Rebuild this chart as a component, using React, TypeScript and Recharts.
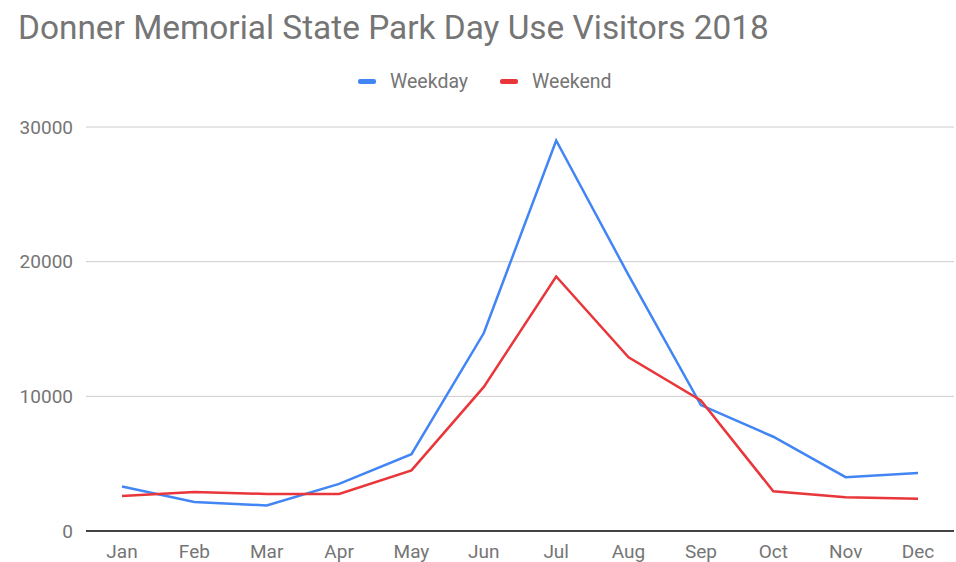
import React from 'react';
import { LineChart, Line, XAxis, YAxis, CartesianGrid } from 'recharts';

const months = ['Jan', 'Feb', 'Mar', 'Apr', 'May', 'Jun', 'Jul', 'Aug', 'Sep', 'Oct', 'Nov', 'Dec'];
const weekday = [3300, 2150, 1900, 3500, 5700, 14700, 29000, 19000, 9350, 7000, 4000, 4300];
const weekend = [2600, 2900, 2750, 2750, 4500, 10700, 18900, 12900, 9700, 2950, 2500, 2400];
const yTicks = [0, 10000, 20000, 30000];

const BLUE = '#4285f4';
const RED = '#e8363a';
const GRAY = '#757575';
const FONT = 'Roboto, "Noto Sans", sans-serif';

const data = months.map((m, i) => ({ month: m, Weekday: weekday[i], Weekend: weekend[i] }));

const legendItems = [
  { name: 'Weekday', color: BLUE },
  { name: 'Weekend', color: RED },
];

const App: React.FC = () => {
  return (
    <div style={{ position: 'absolute', left: 0, top: 0, width: 956, height: 562, background: '#fff', fontFamily: FONT, overflow: 'hidden' }}>
      <div style={{ position: 'absolute', left: 18, top: 8, fontSize: 33.4, color: GRAY, whiteSpace: 'nowrap' }}>
        Donner Memorial State Park Day Use Visitors 2018
      </div>
      <div style={{ position: 'absolute', left: 358, top: 70, display: 'flex', alignItems: 'center', fontSize: 19.5, color: GRAY }}>
        {legendItems.map((it, i) => (
          <div key={it.name} style={{ display: 'flex', alignItems: 'center', marginRight: i === 0 ? 32 : 0 }}>
            <span style={{ display: 'inline-block', width: 18, height: 5, borderRadius: 2, background: it.color, marginRight: 14 }} />
            <span>{it.name}</span>
          </div>
        ))}
      </div>
      <div style={{ position: 'absolute', left: 0, top: 0 }}>
        <LineChart width={956} height={562} data={data} margin={{ top: 127, right: 2, bottom: 1, left: 0 }}>
          <CartesianGrid horizontal vertical={false} stroke="#cccccc" />
          <XAxis
            dataKey="month"
            height={30}
            padding={{ left: 36, right: 36 }}
            tickLine={false}
            tickSize={0}
            tickMargin={14}
            axisLine={{ stroke: '#444', strokeWidth: 2 }}
            tick={{ fill: GRAY, fontSize: 19, fontFamily: FONT }}
            interval={0}
          />
          <YAxis
            width={86}
            domain={[0, 30000]}
            ticks={yTicks}
            axisLine={false}
            tickLine={false}
            tickSize={0}
            tickMargin={13}
            tick={{ fill: GRAY, fontSize: 19, fontFamily: FONT }}
          />
          <Line type="linear" dataKey="Weekday" stroke={BLUE} strokeWidth={2.5} dot={false} isAnimationActive={false} />
          <Line type="linear" dataKey="Weekend" stroke={RED} strokeWidth={2.5} dot={false} isAnimationActive={false} />
        </LineChart>
      </div>
    </div>
  );
};

export default App;
